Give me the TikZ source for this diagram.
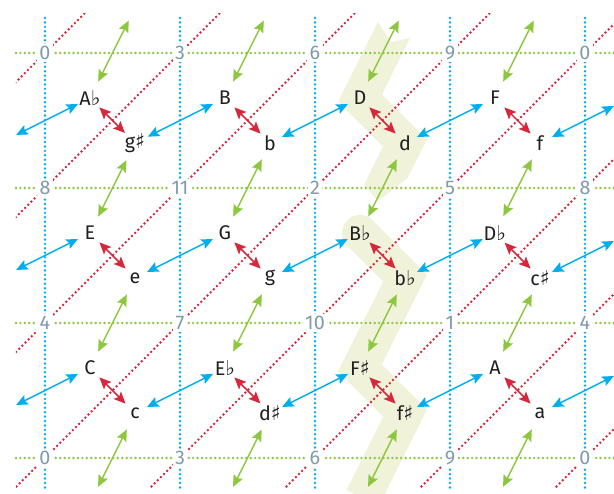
\documentclass[tikz,border=0pt]{standalone}
\usepackage{fontspec}
\setmainfont{Fira Sans}
\newfontfamily\musfont{DejaVu Sans}
\usepackage{tikz}
\usetikzlibrary{arrows.meta,backgrounds}
\definecolor{pcblue}{RGB}{0,174,239}
\definecolor{pcgreen}{RGB}{141,198,63}
\definecolor{pcred}{RGB}{214,40,60}
\definecolor{numgray}{RGB}{128,155,170}
\definecolor{notetext}{RGB}{35,31,32}
\definecolor{bandcol}{RGB}{240,242,218}
\newcommand{\flt}{{\musfont\fontsize{13}{14}\selectfont ♭}}
\newcommand{\shp}{{\musfont\bfseries\fontsize{13}{14}\selectfont ♯}}
\tikzset{
  pc/.style={circle, minimum size=5.8mm, inner sep=0pt, text=notetext,
             font=\fontsize{12.5}{14}\selectfont},
  num/.style={fill=white, inner sep=1.6pt, text=numgray,
              font=\fontsize{12.5}{14}\selectfont},
  gridline/.style={draw=#1, line width=1.7pt, line cap=round,
                   dash pattern=on 0pt off 2.8pt},
  rel/.style={{Stealth[length=2.6mm,width=2.3mm,inset=0.5mm]}-{Stealth[length=2.6mm,width=2.3mm,inset=0.5mm]},
              line width=0.9pt, draw=#1},
  band/.style={draw=bandcol, line width=8mm, line join=miter, line cap=butt},
}

\begin{document}
\begin{tikzpicture}[x=3cm, y=3cm]
  \useasboundingbox (-0.3333,-3.2593) rectangle (4.2148,0.3926);
  % dotted lattice
  \begin{scope}
    \clip (-0.215,-3.222) rectangle (4.3,0.296);
    \foreach \k in {0,...,7}
      \draw[gridline=pcred] (\k-4,-4) -- (\k+4,4);
  \end{scope}
  \foreach \i in {0,...,4}
    \draw[gridline=pcblue] (\i,0.259) -- (\i,-3.222);
  \foreach \j in {0,...,3}
    \draw[gridline=pcgreen] (-0.215,-\j) -- (4.3,-\j);
  \foreach \i in {0,...,4}
    \foreach \j in {0,...,3} {
      \pgfmathtruncatemacro\pcnum{mod(3*\i+8*\j,12)}
      \node[num] (n\i\j) at (\i,-\j) {\pcnum};
    }
  % chords
  \node[pc] (Ab) at (0.333,-0.333) {A\flt};
  \node[pc] (gs) at (0.667,-0.667) {g\shp};
  \node[pc] (B)  at (1.333,-0.333) {B};
  \node[pc] (b)  at (1.667,-0.667) {b};
  \node[pc] (D)  at (2.333,-0.333) {D};
  \node[pc] (d)  at (2.667,-0.667) {d};
  \node[pc] (F)  at (3.333,-0.333) {F};
  \node[pc] (f)  at (3.667,-0.667) {f};
  \node[pc] (E)  at (0.333,-1.333) {E};
  \node[pc] (e)  at (0.667,-1.667) {e};
  \node[pc] (G)  at (1.333,-1.333) {G};
  \node[pc] (g)  at (1.667,-1.667) {g};
  \node[pc] (Bb) at (2.333,-1.333) {B\flt};
  \node[pc] (bb) at (2.667,-1.667) {b\flt};
  \node[pc] (Db) at (3.333,-1.333) {D\flt};
  \node[pc] (cs) at (3.667,-1.667) {c\shp};
  \node[pc] (C)  at (0.333,-2.333) {C};
  \node[pc] (c)  at (0.667,-2.667) {c};
  \node[pc] (Eb) at (1.333,-2.333) {E\flt};
  \node[pc] (ds) at (1.667,-2.667) {d\shp};
  \node[pc] (Fs) at (2.333,-2.333) {F\shp};
  \node[pc] (fs) at (2.667,-2.667) {f\shp};
  \node[pc] (A)  at (3.333,-2.333) {A};
  \node[pc] (a)  at (3.667,-2.667) {a};
  % wrap-around neighbours outside the frame
  \coordinate (west0) at (-0.333,-0.667);
  \coordinate (west1) at (-0.333,-1.667);
  \coordinate (west2) at (-0.333,-2.667);
  \coordinate (east0) at (4.333,-0.333);
  \coordinate (east1) at (4.333,-1.333);
  \coordinate (east2) at (4.333,-2.333);
  \foreach \i in {0,...,3} {
    \coordinate (north\i) at (\i+0.667,0.333);
    \coordinate (south\i) at (\i+0.333,-3.333);
  }
  % P, L and R moves
  \foreach \p/\q in {Ab/gs,B/b,D/d,F/f,E/e,G/g,Bb/bb,Db/cs,C/c,Eb/ds,Fs/fs,A/a}
    \draw[rel=pcred] (\p) -- (\q);
  \foreach \p/\q in {gs/B,b/D,d/F,e/G,g/Bb,bb/Db,c/Eb,ds/Fs,fs/A}
    \draw[rel=pcblue] (\p) -- (\q);
  \foreach \p/\q in {west0/Ab,west1/E,west2/C}
    \draw[rel=pcblue, shorten <=4mm] (\p) -- (\q);
  \foreach \p/\q in {f/east0,cs/east1,a/east2}
    \draw[rel=pcblue, shorten >=4mm] (\p) -- (\q);
  \foreach \p/\q in {gs/E,b/G,d/Bb,f/Db,e/C,g/Eb,bb/Fs,cs/A}
    \draw[rel=pcgreen, shorten <=1.1mm, shorten >=1.1mm] (\p) -- (\q);
  \foreach \i/\q in {0/Ab,1/B,2/D,3/F}
    \draw[rel=pcgreen, shorten <=3.1mm, shorten >=1.1mm] (north\i) -- (\q);
  \foreach \p/\i in {c/0,ds/1,fs/2,a/3}
    \draw[rel=pcgreen, shorten <=1.1mm, shorten >=4mm] (\p) -- (south\i);
  % highlighted path
  \begin{scope}[on background layer]
    \fill[bandcol] (2.466,0.230) -- (2.563,0.081) -- (2.704,0.111) -- (2.496,-0.307)
      -- (2.829,-0.641) -- (2.686,-0.926) -- (2.467,-1.096) -- (2.362,-0.978)
      -- (2.504,-0.693) -- (2.171,-0.360) -- cycle;
    \fill[bandcol] (Bb.center) circle[radius=4mm];
    \draw[band] (Bb.center) -- (bb.center) -- (Fs.center) -- (fs.center) -- ++(-0.315,-0.63);
  \end{scope}
\end{tikzpicture}
\end{document}
